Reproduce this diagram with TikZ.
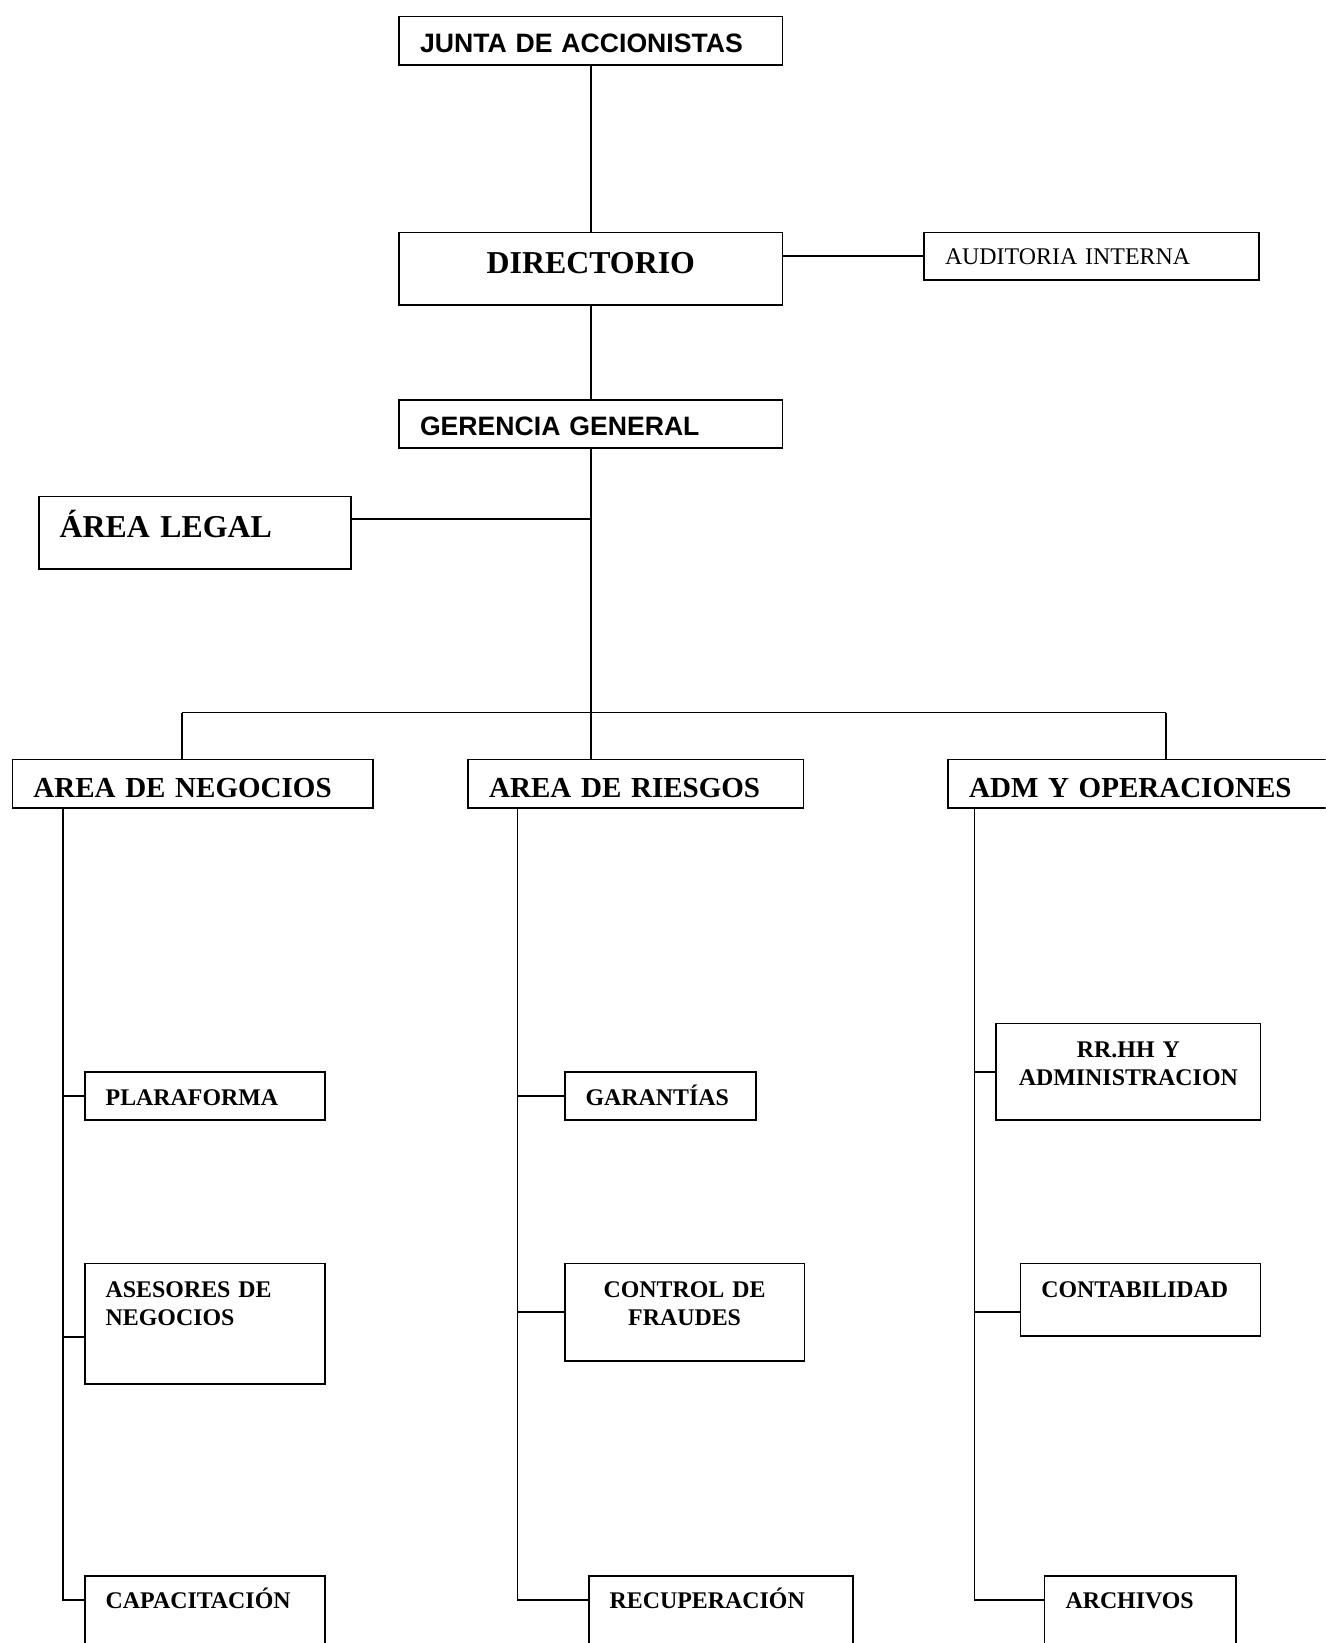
\documentclass[tikz,border=0pt]{standalone}
\usepackage{fontspec}
\setmainfont{Liberation Serif}
\newfontfamily\arialfont{Liberation Sans}
\usetikzlibrary{positioning}
\tikzset{
    board/.style={draw, line width=1.7pt, anchor=north west, inner xsep=20pt, inner ysep=0pt, align=left},
    sanslabel/.style={font=\arialfont\bfseries\fontsize{25.4}{30}\selectfont},
    toplabel/.style={font=\bfseries\fontsize{30.4}{36}\selectfont},
    arealabel/.style={font=\bfseries\fontsize{27.7}{33}\selectfont},
    unitlabel/.style={font=\bfseries\fontsize{22.8}{27}\selectfont},
    plainlabel/.style={font=\fontsize{22.8}{27}\selectfont},
    link/.style={line width=1.6pt}
}
\begin{document}
\begin{tikzpicture}[x=1pt, y=-1pt]

    \useasboundingbox (0,0) rectangle (1265,1568);
    \clip (0,0) rectangle (1265,1568);

    % Top of the chart
    \node (junta) [board, sanslabel, text width=326pt, text height=34pt, text depth=12pt] at (380,15) {JUNTA DE ACCIONISTAS};
    \node (dir)   [board, toplabel, align=center, text width=326pt, text height=39pt, text depth=30pt] at (380,221) {DIRECTORIO};
    \node (aud)   [board, plainlabel, text width=280pt, text height=30.5pt, text depth=14.5pt] at (881,221) {AUDITORIA INTERNA};
    \node (ger)   [board, sanslabel, text width=326pt, text height=34pt, text depth=12pt] at (380,381) {GERENCIA GENERAL};
    \node (legal) [board, toplabel, text width=258pt, text height=39pt, text depth=30pt] at (36,473) {ÁREA LEGAL};

    % Areas
    \node (neg)  [board, arealabel, text width=304pt, text height=36pt, text depth=10pt] at (11,724) {AREA DE NEGOCIOS};
    \node (ries) [board, arealabel, text width=280pt, text height=36pt, text depth=10pt] at (446,724) {AREA DE RIESGOS};
    \node (adm)  [board, arealabel, text width=360pt, text height=36pt, text depth=10pt] at (904,724) {ADM Y OPERACIONES};

    % Units under each area
    \node (plat) [board, unitlabel, text width=189pt, text height=32.5pt, text depth=13.5pt] at (80,1022) {PLARAFORMA};
    \node (ase)  [board, unitlabel, text width=189pt, text height=32.5pt, text depth=82.5pt] at (80,1205) {ASESORES DE\\NEGOCIOS};
    \node (cap)  [board, unitlabel, text width=189pt, text height=31.5pt, text depth=61.5pt] at (80,1503) {CAPACITACIÓN};

    \node (gar)  [board, unitlabel, text width=143pt, text height=32.5pt, text depth=13.5pt] at (538,1022) {GARANTÍAS};
    \node (ctrl) [board, unitlabel, align=center, inner xsep=10pt, text width=209pt, text height=32.5pt, text depth=60.5pt] at (538,1205) {CONTROL DE\\FRAUDES};
    \node (rec)  [board, unitlabel, text width=212pt, text height=31.5pt, text depth=61.5pt] at (561,1503) {RECUPERACIÓN};

    \node (rrhh) [board, unitlabel, align=center, inner xsep=10pt, text width=232pt, text height=32.5pt, text depth=59.5pt] at (950,976) {RR.HH Y\\ADMINISTRACION};
    \node (cont) [board, unitlabel, text width=189pt, text height=32.5pt, text depth=36.5pt] at (973,1205) {CONTABILIDAD};
    \node (arch) [board, unitlabel, text width=143pt, text height=31.5pt, text depth=61.5pt] at (996,1503) {ARCHIVOS};

    % Junctions
    \coordinate (legaljoin) at (563,495);
    \coordinate (busL) at (174,680);
    \coordinate (busR) at (1113,680);
    \coordinate (spN) at (60,1527);
    \coordinate (spR) at (494,1527);
    \coordinate (spA) at (930,1527);

    % Lines
    \draw [link] (junta) -- (dir);
    \draw [link] (dir) -- (ger);
    \draw [link] (aud.west) -- (aud.west -| dir.east);
    \draw [link] (ger.south) -- (ger.south |- ries.north);
    \draw [link] (legaljoin) -- (legaljoin -| legal.east);
    \draw [link] (busL) -- (busR);
    \draw [link] (busL) -- (busL |- neg.north);
    \draw [link] (busR) -- (busR |- adm.north);

    \draw [link] (neg.south -| spN) -- (spN) -- (spN -| cap.west);
    \draw [link] (spN |- plat.west) -- (plat.west);
    \draw [link] ([yshift=-12.5pt]ase.west) -- ([yshift=-12.5pt]ase.west -| spN);

    \draw [link] (ries.south -| spR) -- (spR) -- (spR -| rec.west);
    \draw [link] (spR |- gar.west) -- (gar.west);
    \draw [link] (spR |- ctrl.west) -- (ctrl.west);

    \draw [link] (adm.south -| spA) -- (spA) -- (spA -| arch.west);
    \draw [link] (spA |- rrhh.west) -- (rrhh.west);
    \draw [link] ([yshift=-11.5pt]cont.west) -- ([yshift=-11.5pt]cont.west -| spA);

\end{tikzpicture}
\end{document}
